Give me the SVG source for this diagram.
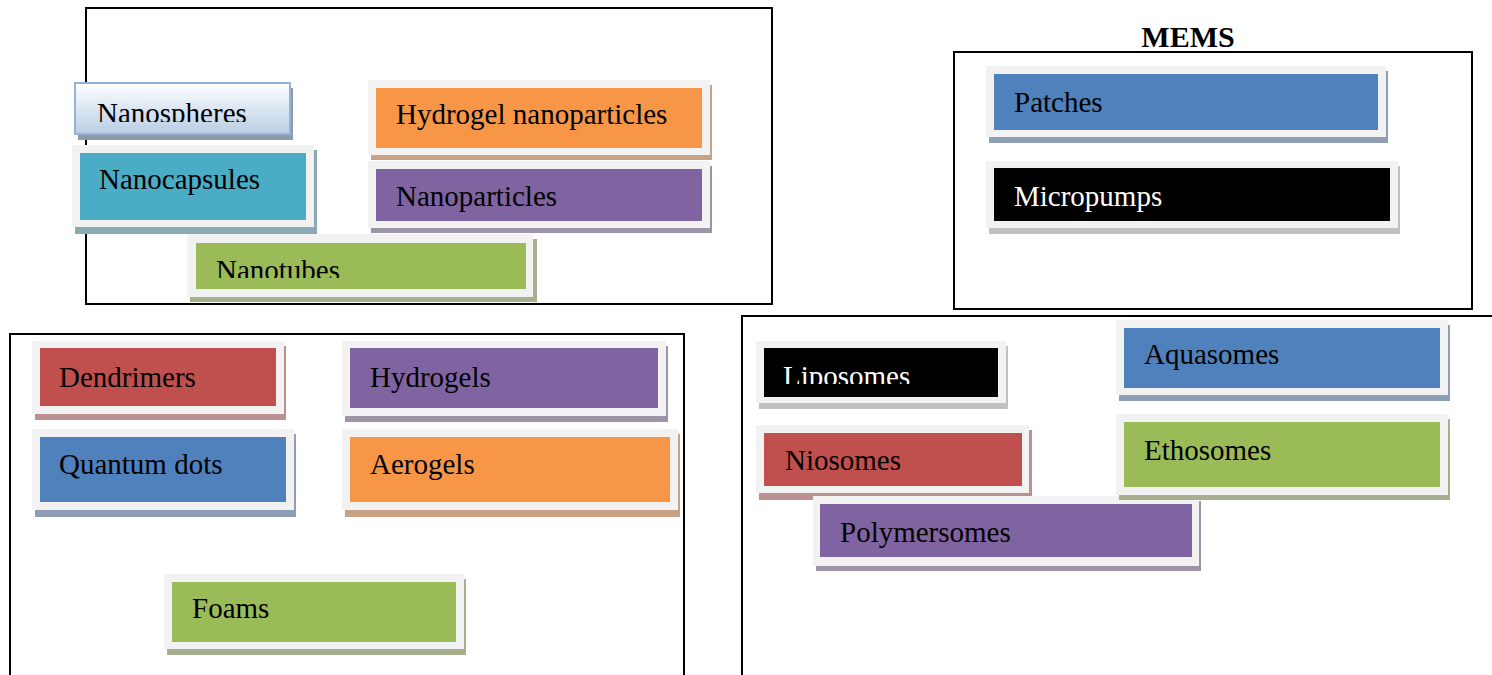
<svg xmlns="http://www.w3.org/2000/svg" width="1492" height="675" viewBox="0 0 1492 675">
<style>
.frame{fill:none;stroke:#000;stroke-width:2}
.outer{fill:#f2f2f2}
.t{font-family:"Liberation Serif","Times New Roman",serif;font-size:29px;fill:#000}
.tw{fill:#fff}
.title{font-family:"Liberation Serif","Times New Roman",serif;font-size:30px;font-weight:bold;fill:#000}
</style>
<defs>
<linearGradient id="gSph" x1="0" y1="0" x2="0" y2="1">
<stop offset="0" stop-color="#ffffff"/>
<stop offset="1" stop-color="#b9cde5"/>
</linearGradient>
<clipPath id="cSph"><rect x="75" y="83" width="215" height="39"/></clipPath>
<clipPath id="cTub"><rect x="196" y="243" width="330" height="35"/></clipPath>
<clipPath id="cLip"><rect x="764" y="348" width="234" height="36"/></clipPath>
</defs>
<rect width="1492" height="675" fill="#fff"/>

<g id="frames">
<rect class="frame" x="86" y="8" width="686" height="296"/>
<rect class="frame" x="954" y="52" width="518" height="257"/>
<rect class="frame" x="10" y="334" width="674" height="360"/>
<rect class="frame" x="742" y="316" width="780" height="380"/>
<text class="title" x="1188" y="47" text-anchor="middle">MEMS</text>
</g>

<g id="connectors"></g>

<g id="nanospheres">
<rect x="78" y="88" width="215" height="52" fill="#8e9aa8"/>
<rect x="75" y="83" width="215" height="51" fill="url(#gSph)" stroke="#95b3d7" stroke-width="2"/>
<text class="t" x="97" y="122.5" clip-path="url(#cSph)">Nanospheres</text>
</g>

<g id="nanocapsules">
<rect x="75" y="150" width="242" height="84" fill="#8aa9b2"/>
<rect class="outer" x="72" y="145" width="242" height="82"/>
<rect x="80" y="153" width="226" height="67" fill="#4bacc6"/>
<text class="t" x="99" y="189">Nanocapsules</text>
</g>

<g id="hydrogel-nanoparticles">
<rect x="371" y="85" width="341" height="75" fill="#c9a184"/>
<rect class="outer" x="368" y="80" width="342" height="75"/>
<rect x="376" y="88" width="326" height="60" fill="#f79646"/>
<text class="t" x="396" y="124">Hydrogel nanoparticles</text>
</g>

<g id="nanoparticles">
<rect x="371" y="166" width="341" height="67" fill="#9e94a8"/>
<rect class="outer" x="368" y="161" width="342" height="67"/>
<rect x="376" y="169" width="326" height="52" fill="#8064a2"/>
<text class="t" x="396" y="206">Nanoparticles</text>
</g>

<g id="nanotubes">
<rect x="190" y="239" width="347" height="63" fill="#a6b08e"/>
<rect class="outer" x="187" y="234" width="346" height="63"/>
<rect x="196" y="243" width="330" height="46" fill="#9bbb59"/>
<text class="t" x="216" y="280" clip-path="url(#cTub)">Nanotubes</text>
</g>

<g id="patches">
<rect x="989" y="71" width="399" height="72" fill="#8e9fb5"/>
<rect class="outer" x="986" y="66" width="400" height="71"/>
<rect x="994" y="74" width="384" height="56" fill="#4f81bd"/>
<text class="t" x="1014" y="112">Patches</text>
</g>

<g id="micropumps">
<rect x="989" y="166" width="411" height="68" fill="#c0c0c0"/>
<rect class="outer" x="986" y="161" width="412" height="67"/>
<rect x="994" y="168" width="396" height="53" fill="#000"/>
<text class="t tw" x="1014" y="206">Micropumps</text>
</g>

<g id="dendrimers">
<rect x="35" y="346" width="251" height="74" fill="#bb9090"/>
<rect class="outer" x="32" y="341" width="252" height="73"/>
<rect x="40" y="348" width="236" height="58" fill="#c0504d"/>
<text class="t" x="59" y="387">Dendrimers</text>
</g>

<g id="hydrogels">
<rect x="345" y="346" width="323" height="76" fill="#9e94a8"/>
<rect class="outer" x="342" y="341" width="324" height="75"/>
<rect x="350" y="348" width="308" height="60" fill="#8064a2"/>
<text class="t" x="370" y="387">Hydrogels</text>
</g>

<g id="quantum-dots">
<rect x="35" y="434" width="261" height="83" fill="#8e9fb5"/>
<rect class="outer" x="32" y="429" width="262" height="81"/>
<rect x="40" y="437" width="246" height="65" fill="#4f81bd"/>
<text class="t" x="59" y="474">Quantum dots</text>
</g>

<g id="aerogels">
<rect x="345" y="434" width="335" height="83" fill="#c9a184"/>
<rect class="outer" x="342" y="429" width="336" height="81"/>
<rect x="350" y="437" width="320" height="65" fill="#f79646"/>
<text class="t" x="370" y="474">Aerogels</text>
</g>

<g id="foams">
<rect x="167" y="579" width="299" height="76" fill="#a6b08e"/>
<rect class="outer" x="164" y="574" width="300" height="75"/>
<rect x="172" y="582" width="284" height="60" fill="#9bbb59"/>
<text class="t" x="192" y="618">Foams</text>
</g>

<g id="liposomes">
<rect x="759" y="346" width="249" height="63" fill="#c0c0c0"/>
<rect class="outer" x="756" y="341" width="250" height="62"/>
<rect x="764" y="348" width="234" height="49" fill="#000"/>
<text class="t tw" x="783" y="386" clip-path="url(#cLip)">Liposomes</text>
</g>

<g id="niosomes">
<rect x="759" y="430" width="273" height="70" fill="#bb9090"/>
<rect class="outer" x="756" y="425" width="273" height="68"/>
<rect x="764" y="433" width="258" height="53" fill="#c0504d"/>
<text class="t" x="785" y="470">Niosomes</text>
</g>

<g id="polymersomes">
<rect x="816" y="501" width="385" height="70" fill="#9e94a8"/>
<rect class="outer" x="813" y="496" width="386" height="70"/>
<rect x="820" y="504" width="372" height="53" fill="#8064a2"/>
<text class="t" x="840" y="542">Polymersomes</text>
</g>

<g id="aquasomes">
<rect x="1119" y="325" width="331" height="76" fill="#8e9fb5"/>
<rect class="outer" x="1116" y="320" width="332" height="75"/>
<rect x="1124" y="328" width="316" height="60" fill="#4f81bd"/>
<text class="t" x="1144" y="364">Aquasomes</text>
</g>

<g id="ethosomes">
<rect x="1119" y="419" width="331" height="81" fill="#a6b08e"/>
<rect class="outer" x="1116" y="414" width="332" height="81"/>
<rect x="1124" y="422" width="316" height="65" fill="#9bbb59"/>
<text class="t" x="1144" y="460">Ethosomes</text>
</g>
</svg>
